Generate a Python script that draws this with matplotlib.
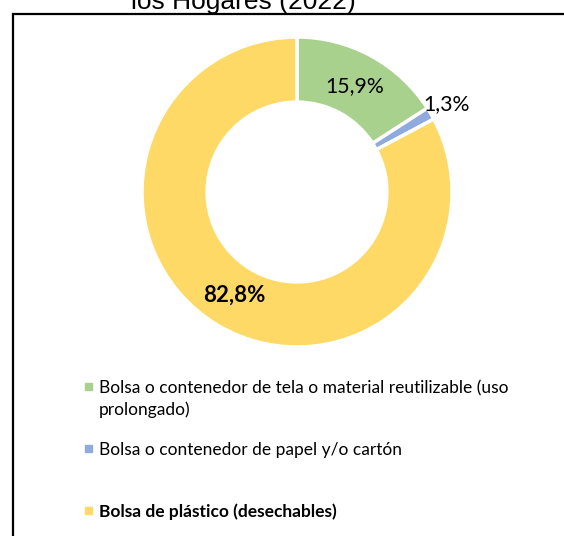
import matplotlib
matplotlib.use("Agg")
import matplotlib.pyplot as plt
from matplotlib.patches import Rectangle
import numpy as np

# datos
categorias = ["Bolsa o contenedor de tela o material reutilizable (uso\nprolongado)",
              "Bolsa o contenedor de papel y/o cartón",
              "Bolsa de plástico (desechables)"]
porcentajes = [15.9, 1.3, 82.8]
colores = ["#A9D18E", "#8FAADC", "#FFD966"]
titulo = "los Hogares (2022)"

W, H = 564, 536
fig = plt.figure(figsize=(W / 100, H / 100), dpi=100)
fuente = "Lato"

# marco
fig.patches.append(Rectangle((13 / W, -0.05), 1.0, (H - 14) / H + 0.05,
                             transform=fig.transFigure, fill=False,
                             edgecolor="black", lw=1.6))

fig.text(243 / W, 1 - 9 / H, titulo, ha="center", va="baseline",
         fontsize=19, family="Liberation Sans")

# anillo
cx, cy, r = 297, 192, 155
ax = fig.add_axes([(cx - r) / W, (H - cy - r) / H, 2 * r / W, 2 * r / H])
wedges, textos, pcts = ax.pie(porcentajes, colors=colores, startangle=90,
                              counterclock=False, radius=1,
                              wedgeprops=dict(width=0.42, edgecolor="white", linewidth=2.5),
                              autopct=lambda p: f"{p:.1f}%".replace(".", ","),
                              pctdistance=0.78,
                              textprops=dict(family=fuente, fontsize=15.3))
ax.set_xlim(-1, 1)
ax.set_ylim(-1, 1)
ax.set_aspect("equal")
ax.axis("off")

# etiqueta del segmento pequeño fuera del anillo
w = wedges[1]
ang = np.deg2rad((w.theta1 + w.theta2) / 2)
pcts[1].set_position((1.12 * np.cos(ang), 1.12 * np.sin(ang)))
pcts[2].set_fontweight("bold")
pcts[2].set_fontsize(16)

# leyenda manual
filas = [393, 455, 517]
for i, (cat, col, yb) in enumerate(zip(categorias, colores, filas)):
    fig.patches.append(Rectangle((85 / W, 1 - (yb - 3) / H), 7 / W, 7 / H,
                                 transform=fig.transFigure, color=col))
    for k, linea in enumerate(cat.split("\n")):
        fig.text(99 / W, 1 - (yb + 22 * k) / H, linea, ha="left", va="baseline",
                 fontsize=12.5, family=fuente,
                 fontweight="bold" if i == 2 else "normal")

fig.savefig("out.png", dpi=100)
